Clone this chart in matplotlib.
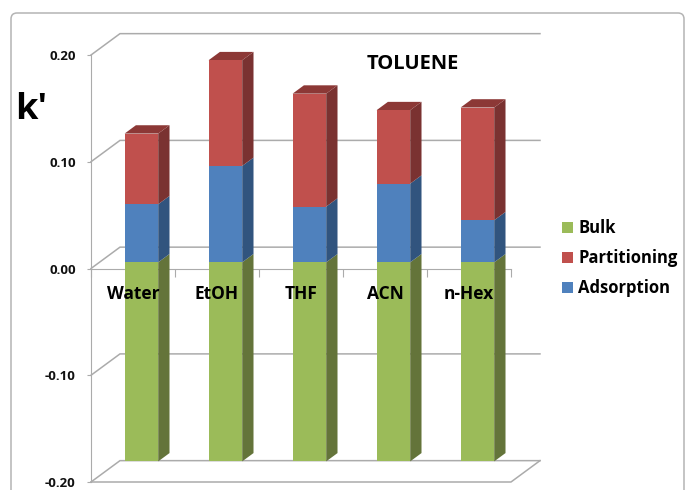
import matplotlib
matplotlib.use('Agg')
import matplotlib.pyplot as plt
from matplotlib.patches import FancyBboxPatch
import numpy as np

solvents = ['Water', 'EtOH', 'THF', 'ACN', 'n-Hex']
bulk = [-0.1865, -0.1865, -0.1865, -0.1865, -0.1865]
adsorption = [0.0544, 0.0903, 0.0522, 0.0737, 0.0394]
partitioning = [0.0662, 0.0990, 0.1058, 0.0688, 0.1056]
yticks = [-0.20, -0.10, 0.00, 0.10, 0.20]

green = ['#9BBB59', '#64743A', '#7A8F45']
red = ['#C0504D', '#7A3231', '#8C3836']
blue = ['#4F81BD', '#31547E', '#3A6190']
gridcol = '#ABABAB'

# oblique projection of the depth axis, in data units
DX = 0.345
DY = 0.02
D0 = 0.29
D1 = 0.68
bw = 0.4

W, H = 685, 490
plt.rcParams['font.family'] = ['Open Sans', 'DejaVu Sans']
plt.rcParams['font.weight'] = 'bold'
fig = plt.figure(figsize=(W/100, H/100), dpi=100)

# rounded panel border, runs off the bottom edge
bg = fig.add_axes([0, 0, 1, 1], zorder=0)
bg.set_xlim(0, W)
bg.set_ylim(H, 0)
bg.axis('off')
bg.add_patch(FancyBboxPatch((11, 13), 673, 520, boxstyle='round,pad=0,rounding_size=6',
                            fc='white', ec='#B4B4B4', lw=1.1))

ax = fig.add_axes([91/W, 1-482/H, 420/W, 427/H], zorder=1)
ax.patch.set_alpha(0)
x = np.arange(len(solvents))
ax.set_xlim(-0.5, 4.5)
ax.set_ylim(-0.2, 0.2)

# back wall gridlines and the diagonals joining them to the front axis
for v in yticks:
    ax.plot([-0.5, -0.5+DX, 4.5+DX], [v, v+DY, v+DY], color=gridcol, lw=1.1,
            clip_on=False, zorder=0.5, solid_joinstyle='miter')
ax.plot([-0.5, 4.5, 4.5+DX], [-0.2, -0.2, -0.2+DY], color=gridcol, lw=1.1,
        clip_on=False, zorder=0.5)


def box(left, bottom, height, cols, label=None, top=False):
    cont = ax.bar(left, height, width=bw, bottom=bottom, align='edge', color=cols[0],
                  zorder=1.2, label=label)
    top_y = bottom + height
    r = left + bw
    ddx = (D1-D0)*DX
    ddy = (D1-D0)*DY
    ax.fill([r, r+ddx, r+ddx, r], [bottom, bottom+ddy, top_y+ddy, top_y], color=cols[1],
            lw=0, zorder=1.1, clip_on=False)
    if top:
        ax.fill([left, left+ddx, r+ddx, r], [top_y, top_y+ddy, top_y+ddy, top_y], color=cols[2],
                lw=0, zorder=1.1, clip_on=False)
    return cont


handles = {}
for i in x:
    left = i - 0.5 + (1-bw)/2 + D0*DX
    base = D0*DY
    a, p, b = adsorption[i], partitioning[i], bulk[i]
    handles['Bulk'] = box(left, base+b, -b, green)
    handles['Adsorption'] = box(left, base, a, blue)
    handles['Partitioning'] = box(left, base+a, p, red, top=True)

for s in ['top', 'right']:
    ax.spines[s].set_visible(False)
ax.spines['left'].set_color(gridcol)
ax.spines['bottom'].set_color(gridcol)
ax.spines['bottom'].set_position(('data', 0))
ax.spines['bottom'].set_zorder(0.6)
ax.spines['left'].set_zorder(0.6)

ax.set_axisbelow(False)
ax.set_yticks(yticks)
ax.set_yticklabels(['%.2f' % v for v in yticks], fontsize=9.5, fontweight='bold')
ax.tick_params(axis='y', length=3, color=gridcol, pad=8)
for lab in ax.get_yticklabels():
    lab.set_color('#111111')

# ticks sit between the categories, labels at the centres
ax.set_xticks(np.arange(-0.5, 5, 1))
ax.set_xticklabels([])
ax.set_xticks(x, minor=True)
ax.set_xticklabels(solvents, minor=True, fontsize=12.5, fontweight='bold')
ax.tick_params(axis='x', which='major', length=6, color=gridcol)
ax.tick_params(axis='x', which='minor', length=0, pad=12)

fig.text(15/W, 1-110/H, "k'", fontsize=26, fontweight='bold', va='center', ha='left')
fig.text(413/W, 1-64/H, 'TOLUENE', fontsize=14.5, fontweight='bold', va='center', ha='center')

names = ['Bulk', 'Partitioning', 'Adsorption']
fig.legend([handles[n] for n in names], names, loc='center left', bbox_to_anchor=(555/W, 1-258/H),
           frameon=False, fontsize=12, handlelength=0.66, handleheight=0.66, handletextpad=0.35,
           labelspacing=0.72, borderpad=0, borderaxespad=0.4)

fig.savefig('out.png', dpi=100)
